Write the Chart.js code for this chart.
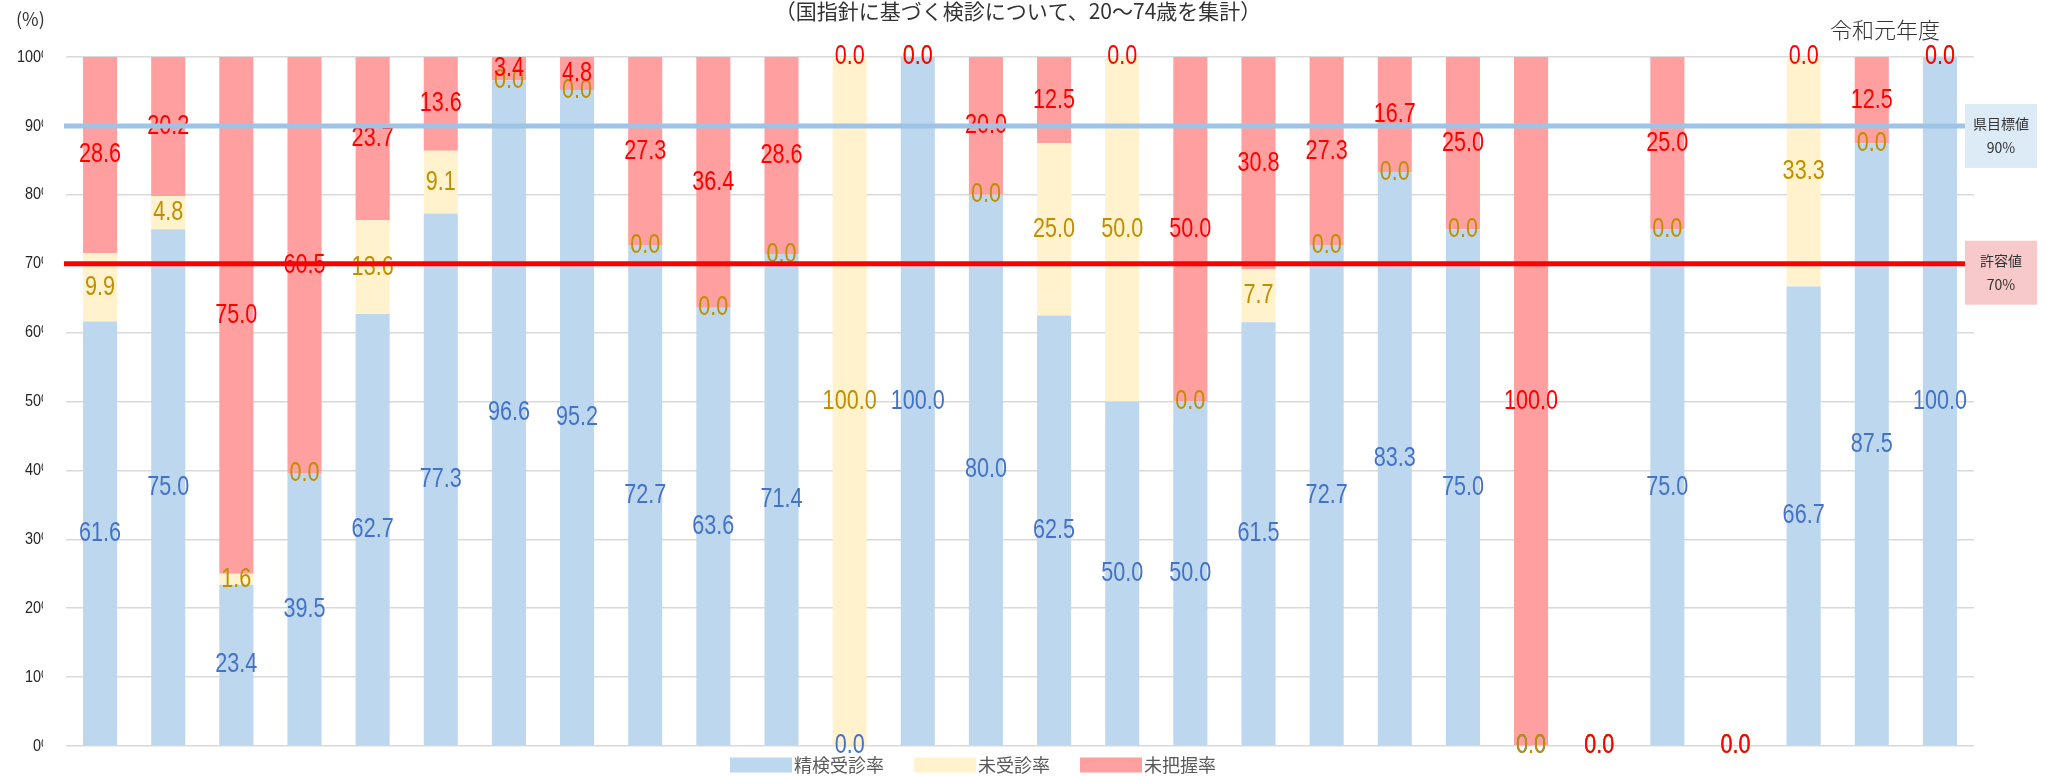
<!DOCTYPE html>
<html lang="ja">
<head>
<meta charset="utf-8">
<title>精検受診率・未受診率・未把握率</title>
<script src="https://cdn.jsdelivr.net/npm/chart.js@4.4.1/dist/chart.umd.min.js"></script>
<style>
    html, body { margin: 0; padding: 0; background: #fff; }
    #wrap { width: 2046px; height: 776px; position: relative; }
</style>
</head>
<body>
<div id="wrap"><canvas id="rateChart" width="2046" height="776"></canvas></div>
<script>
// --- Data (category names are not shown on the axis) ---
const categories = ['1', '2', '3', '4', '5', '6', '7', '8', '9', '10', '11', '12', '13', '14',
                    '15', '16', '17', '18', '19', '20', '21', '22', '23', '24', '25', '26', '27', '28'];
const screenedRate   = [61.6, 75.0, 23.4, 39.5, 62.7, 77.3, 96.6, 95.2, 72.7, 63.6, 71.4, 0.0, 100.0, 80.0,
                        62.5, 50.0, 50.0, 61.5, 72.7, 83.3, 75.0, 0.0, 0.0, 75.0, 0.0, 66.7, 87.5, 100.0];
const unscreenedRate = [9.9, 4.8, 1.6, 0.0, 13.6, 9.1, 0.0, 0.0, 0.0, 0.0, 0.0, 100.0, 0.0, 0.0,
                        25.0, 50.0, 0.0, 7.7, 0.0, 0.0, 0.0, 0.0, 0.0, 0.0, 0.0, 33.3, 0.0, 0.0];
const unknownRate    = [28.6, 20.2, 75.0, 60.5, 23.7, 13.6, 3.4, 4.8, 27.3, 36.4, 28.6, 0.0, 0.0, 20.0,
                        12.5, 0.0, 50.0, 30.8, 27.3, 16.7, 25.0, 100.0, 0.0, 25.0, 0.0, 0.0, 12.5, 0.0];
const seriesNames = ['精検受診率', '未受診率', '未把握率'];
const yTicks = [0, 10, 20, 30, 40, 50, 60, 70, 80, 90, 100];
const refValues = [90, 70];
const refNames = ['県目標値', '許容値'];
const refLabels = ['90%', '70%'];

// --- Styles ---
const barColors   = ['#BDD7EE', '#FFF2CC', '#FF9F9F'];
const labelColors = ['#4472C4', '#BF8F00', '#FF0000'];
const refLineColors = ['#9DC3E6', '#FF0000'];
const refBoxColors  = ['#DDEBF7', '#F8C9CA'];
const LABEL_FONT = '27px "Liberation Sans", Arial, sans-serif';
const CJK = '"Noto Sans CJK JP", "Noto Sans", sans-serif';

// draw horizontally condensed text (the original uses a narrow font)
function narrowText(ctx, text, x, y, sx) {
    ctx.save();
    ctx.translate(x, y);
    ctx.scale(sx, 1);
    ctx.fillText(text, 0, 0);
    ctx.restore();
}

// --- Segment value labels, then the target / tolerance lines on top ---
const overlayPlugin = {
    id: 'overlay',
    afterDatasetsDraw(chart) {
        const ctx = chart.ctx;
        const area = chart.chartArea;
        const yScale = chart.scales.y;

        ctx.save();
        ctx.font = LABEL_FONT;
        ctx.textAlign = 'center';
        ctx.textBaseline = 'middle';
        chart.data.datasets.forEach((ds, di) => {
            const meta = chart.getDatasetMeta(di);
            ctx.fillStyle = labelColors[di];
            meta.data.forEach((bar, i) => {
                const v = ds.data[i];
                if (v === null || v === undefined) return;
                const cy = (bar.y + bar.base) / 2;
                narrowText(ctx, v.toFixed(1), bar.x, cy, 0.8);
            });
        });
        ctx.restore();

        // reference lines with their caption boxes at the right
        const boxLeft = 1965, boxW = 72, boxH = 64;
        const boxOffsets = [-22, -23];
        refValues.forEach((rv, k) => {
            const y = yScale.getPixelForValue(rv);
            ctx.save();
            ctx.strokeStyle = refLineColors[k];
            ctx.lineWidth = 5;
            ctx.beginPath();
            ctx.moveTo(area.left - 2, y);
            ctx.lineTo(boxLeft, y);
            ctx.stroke();

            const top = y + boxOffsets[k];
            ctx.fillStyle = refBoxColors[k];
            ctx.fillRect(boxLeft, top, boxW, boxH);
            ctx.fillStyle = '#333333';
            ctx.textAlign = 'center';
            ctx.textBaseline = 'middle';
            ctx.font = '14px ' + CJK;
            ctx.fillText(refNames[k], boxLeft + boxW / 2, top + 20);
            ctx.fillText(refLabels[k], boxLeft + boxW / 2, top + 44);
            ctx.restore();
        });
    },
    afterDraw(chart) {
        const ctx = chart.ctx;
        const yScale = chart.scales.y;

        // y tick labels ("%" is clipped in the original)
        ctx.save();
        ctx.beginPath();
        ctx.rect(0, 0, 43, chart.height);
        ctx.clip();
        ctx.font = '17px "Liberation Sans", Arial, sans-serif';
        ctx.fillStyle = '#262626';
        ctx.textAlign = 'left';
        ctx.textBaseline = 'middle';
        yTicks.forEach(t => {
            const w = ctx.measureText(String(t)).width * 0.85;
            narrowText(ctx, t + '%', 41 - w, yScale.getPixelForValue(t), 0.85);
        });
        ctx.restore();

        // texts at the top
        ctx.save();
        ctx.fillStyle = '#333333';
        ctx.textBaseline = 'middle';
        ctx.font = '18px ' + CJK;
        ctx.textAlign = 'left';
        ctx.fillText('(%)', 16, 19);
        ctx.textAlign = 'center';
        ctx.font = '21px ' + CJK;
        ctx.fillText('（国指針に基づく検診について、20〜74歳を集計）', 1018, 11);
        ctx.font = '300 22px ' + CJK;
        ctx.fillText('令和元年度', 1885, 30);
        ctx.restore();

        // legend
        ctx.save();
        ctx.font = '18px ' + CJK;
        ctx.textBaseline = 'middle';
        ctx.textAlign = 'left';
        const boxW = 62, boxH = 15, gap = 2, itemGap = 30, cy = 765;
        let total = 0;
        chart.data.datasets.forEach(ds => {
            total += boxW + gap + ctx.measureText(ds.label).width;
        });
        total += itemGap * (chart.data.datasets.length - 1);
        let x = 973 - total / 2;
        chart.data.datasets.forEach(ds => {
            ctx.fillStyle = ds.backgroundColor;
            ctx.fillRect(x, cy - boxH / 2, boxW, boxH);
            ctx.fillStyle = '#595959';
            ctx.fillText(ds.label, x + boxW + gap, cy);
            x += boxW + gap + ctx.measureText(ds.label).width + itemGap;
        });
        ctx.restore();
    }
};

const seriesData = [screenedRate, unscreenedRate, unknownRate];

new Chart(document.getElementById('rateChart'), {
    type: 'bar',
    data: {
        labels: categories,
        datasets: seriesData.map((d, i) => ({
            label: seriesNames[i],
            data: d,
            backgroundColor: barColors[i],
            borderWidth: 0,
            categoryPercentage: 1.0,
            barPercentage: 0.5
        }))
    },
    options: {
        responsive: false,
        animation: false,
        devicePixelRatio: 1,
        layout: { padding: { left: 66, right: 72, top: 57, bottom: 30 } },
        scales: {
            x: {
                stacked: true,
                display: false
            },
            y: {
                stacked: true,
                min: 0,
                max: 100,
                ticks: { display: false, stepSize: 10 },
                grid: { color: '#D9D9D9', lineWidth: 1.5, drawTicks: false },
                border: { display: false }
            }
        },
        plugins: {
            legend: { display: false },
            title: { display: false },
            tooltip: { enabled: false }
        }
    },
    plugins: [overlayPlugin]
});
</script>
</body>
</html>
